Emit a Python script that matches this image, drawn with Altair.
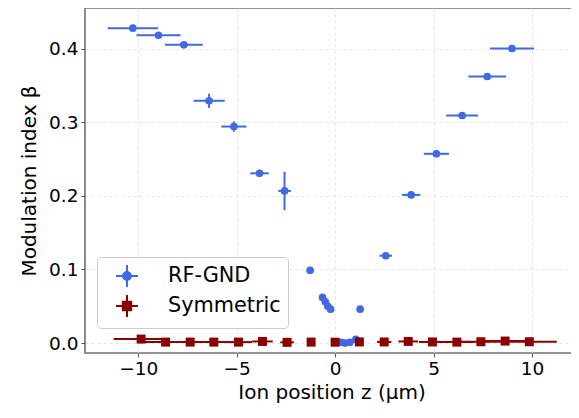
import altair as alt
import pandas as pd

# ---- data ----
series_names = ["RF-GND", "Symmetric"]
series_colors = ["#4169E1", "#8B0000"]

rf_z = [-10.27, -8.97, -7.68, -6.40, -5.14, -3.84, -2.57, -1.27, -0.64, -0.50, -0.37, -0.23,
        0.30, 0.50, 0.75, 1.05, 1.27, 2.57, 3.86, 5.14, 6.45, 7.72, 8.98]
rf_beta = [0.4276, 0.418, 0.405, 0.329, 0.294, 0.2305, 0.2066, 0.0988, 0.0620, 0.056, 0.050, 0.046,
           0.001, 0.000, 0.001, 0.005, 0.046, 0.1186, 0.2012, 0.257, 0.309, 0.362, 0.400]
rf_zerr = [1.28, 1.12, 0.96, 0.79, 0.635, 0.47, 0.32, 0.16, 0.08, 0.06, 0.05, 0.03,
           0.04, 0.06, 0.09, 0.13, 0.16, 0.32, 0.47, 0.64, 0.81, 0.96, 1.12]
rf_berr = [0.003, 0.003, 0.003, 0.0097, 0.007, 0.004, 0.026, 0.003, 0.002, 0.002, 0.002, 0.002,
           0.002, 0.002, 0.002, 0.002, 0.003, 0.004, 0.004, 0.003, 0.003, 0.003, 0.003]

sym_z = [-9.85, -8.61, -7.36, -6.16, -4.91, -3.69, -2.44, -1.22, 0.0, 1.23, 2.49, 3.71,
         4.94, 6.18, 7.40, 8.63, 9.86]
sym_beta = [0.0054, 0.0013, 0.0013, 0.0013, 0.0013, 0.0022, 0.0010, 0.0013, 0.0012, 0.0015,
            0.0015, 0.0022, 0.0015, 0.0013, 0.0018, 0.0027, 0.0018]
sym_zerr = [1.40, 1.20, 1.03, 0.86, 0.69, 0.52, 0.34, 0.17, 0.0, 0.17, 0.36, 0.50,
            0.69, 0.87, 1.04, 1.21, 1.39]
sym_berr = [0.002] * 17

x_ticks = [-10, -5, 0, 5, 10]
y_ticks = [0.0, 0.1, 0.2, 0.3, 0.4]

FONT = "DejaVu Sans"


def frame(z, b, ze, be):
    df = pd.DataFrame({"z": z, "beta": b, "zerr": ze, "berr": be})
    df["zlo"] = df["z"] - df["zerr"]
    df["zhi"] = df["z"] + df["zerr"]
    df["blo"] = df["beta"] - df["berr"]
    df["bhi"] = df["beta"] + df["berr"]
    return df


rf = frame(rf_z, rf_beta, rf_zerr, rf_berr)
sym = frame(sym_z, sym_beta, sym_zerr, sym_berr)

xscale = alt.Scale(domain=[-12.7, 12.33], nice=False, zero=False)
yscale = alt.Scale(domain=[-0.0135, 0.455], nice=False, zero=False)

xenc = alt.X("z:Q", scale=xscale,
             axis=alt.Axis(values=x_ticks, format="d", title="Ion position z (µm)",
                           labelExpr="replace(datum.label, '-', '−')"))
yenc = alt.Y("beta:Q", scale=yscale,
             axis=alt.Axis(values=y_ticks, format=".1f", title="Modulation index β"))


def series_layers(df, color, shape, size):
    base = alt.Chart(df)
    xe = base.mark_rule(color=color, strokeWidth=2).encode(
        x=alt.X("zlo:Q", scale=xscale), x2="zhi:Q", y=alt.Y("beta:Q", scale=yscale))
    ye = base.mark_rule(color=color, strokeWidth=2).encode(
        x=alt.X("z:Q", scale=xscale), y=alt.Y("blo:Q", scale=yscale), y2="bhi:Q")
    pts = base.mark_point(filled=True, shape=shape, size=size, color=color, opacity=1).encode(
        x=xenc, y=yenc)
    return [xe, ye, pts]


circle_cross = ("M-1,0L1,0M0,-1L0,1"
                "M-0.36,0A0.36,0.36,0,1,0,0.36,0A0.36,0.36,0,1,0,-0.36,0Z")
square_cross = ("M-1,0L1,0M0,-1L0,1"
                "M-0.38,-0.38L0.38,-0.38L0.38,0.38L-0.38,0.38Z")

legend_df = pd.DataFrame({"series": series_names, "z": [0.0, 0.0], "beta": [0.0, 0.0]})
legend_layer = alt.Chart(legend_df).mark_point(filled=True, opacity=0, strokeWidth=2).encode(
    x=alt.X("z:Q", scale=xscale),
    y=alt.Y("beta:Q", scale=yscale),
    fill=alt.Fill("series:N", scale=alt.Scale(domain=series_names, range=series_colors),
                  legend=alt.Legend(title=None)),
    stroke=alt.Stroke("series:N", scale=alt.Scale(domain=series_names, range=series_colors),
                      legend=alt.Legend(title=None)),
    shape=alt.Shape("series:N", scale=alt.Scale(domain=series_names, range=[circle_cross, square_cross]),
                    legend=alt.Legend(
                        title=None, orient="none", legendX=12, legendY=249,
                        padding=7, symbolOffset=11, labelOffset=29, rowPadding=0,
                        symbolSize=484, symbolStrokeWidth=2, symbolOpacity=1,
                        labelFontSize=20.8, labelFont=FONT, labelColor="black",
                        fillColor="rgba(255,255,255,0.8)", strokeColor="#cccccc",
                        cornerRadius=4)),
)

layers = series_layers(rf, series_colors[0], "circle", 59) + \
    series_layers(sym, series_colors[1], "square", 81) + [legend_layer]

chart = alt.layer(*layers).properties(
    width=493, height=345,
    autosize=alt.AutoSizeParams(type="none"),
    padding={"left": 77, "top": 0, "right": -7, "bottom": 52},
).configure_view(
    stroke="#707070", strokeWidth=1.6
).configure_axis(
    domain=False,
    grid=True, gridColor="#dddddd", gridDash=[3, 3], gridWidth=0.8,
    ticks=True, tickColor="#555555", tickSize=4, tickWidth=1,
    labelFont=FONT, labelFontSize=18.5, labelColor="black", labelPadding=3,
    titleFont=FONT, titleFontSize=20, titleColor="black", titleFontWeight="normal",
).configure_axisX(
    titleBaseline="alphabetic", titleY=45, labelPadding=2
).configure_axisY(titlePadding=9)

chart.save("out.html", embed_options={"renderer": "svg", "actions": False})
